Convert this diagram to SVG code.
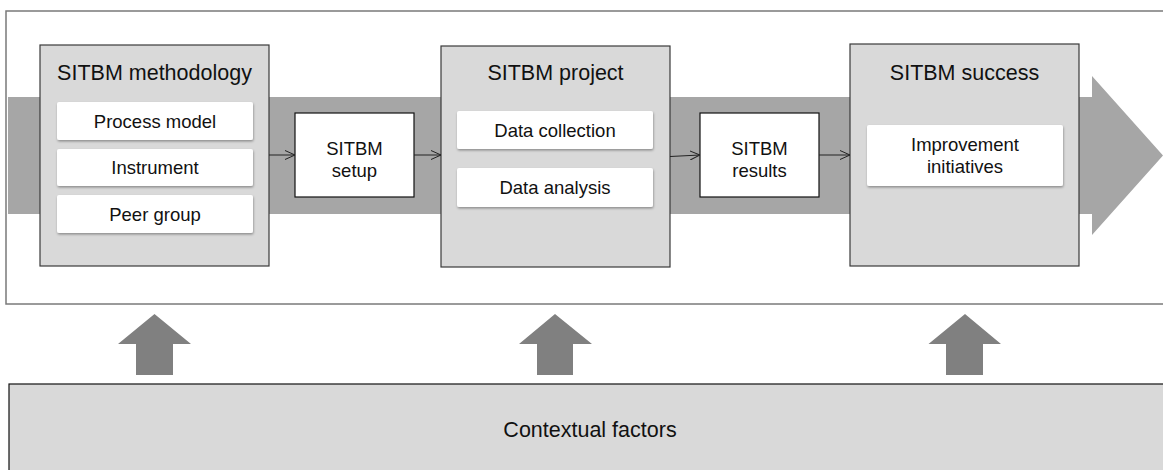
<svg xmlns="http://www.w3.org/2000/svg" width="1163" height="470" viewBox="0 0 1163 470">
<defs>
<style>
text{font-family:"Liberation Sans",Arial,sans-serif;fill:#111;text-anchor:middle}
.title{font-size:21.5px}
.lbl{font-size:18.5px}
.stage{fill:#d9d9d9;stroke:#3a3a3a;stroke-width:1.2}
.item{fill:#fff;filter:url(#sh)}
.box{fill:#fff;stroke:#111;stroke-width:1.2}
.up{fill:#808080}
.conn{stroke:#222;stroke-width:1;fill:none;marker-end:url(#ah)}
</style>
<filter id="sh" x="-5%" y="-20%" width="110%" height="150%">
<feDropShadow dx="0.5" dy="1.5" stdDeviation="1.2" flood-color="#000" flood-opacity="0.35"/>
</filter>
<marker id="ah" viewBox="0 0 10 10" refX="10" refY="5" markerWidth="10" markerHeight="10" markerUnits="userSpaceOnUse" orient="auto">
<path d="M0,0.5 L10,5 L0,9.5" fill="none" stroke="#222" stroke-width="1"/>
</marker>
</defs>
<rect id="frame" x="6" y="11" width="1170" height="293" fill="#fff" stroke="#7a7a7a" stroke-width="1.5"/>
<polygon id="band" points="8,97 1092,97 1092,76 1163,155.5 1092,235 1092,214 8,214" fill="#a6a6a6"/>
<g id="methodology">
<rect class="stage" x="40" y="45" width="229" height="221"/>
<text class="title" x="154.5" y="80">SITBM methodology</text>
<rect class="item" x="57" y="102" width="196" height="38" rx="2"/>
<text class="lbl" x="155" y="128">Process model</text>
<rect class="item" x="57" y="149" width="196" height="37" rx="2"/>
<text class="lbl" x="155" y="174">Instrument</text>
<rect class="item" x="57" y="195" width="196" height="38" rx="2"/>
<text class="lbl" x="155" y="221">Peer group</text>
</g>
<g id="setup">
<rect class="box" x="295" y="113" width="119" height="84"/>
<text class="lbl" x="354.5" y="155">SITBM</text>
<text class="lbl" x="354.5" y="177">setup</text>
</g>
<g id="project">
<rect class="stage" x="441" y="46" width="229" height="221"/>
<text class="title" x="555.5" y="80">SITBM project</text>
<rect class="item" x="457" y="111" width="196" height="38" rx="2"/>
<text class="lbl" x="555" y="137">Data collection</text>
<rect class="item" x="457" y="168" width="196" height="39" rx="2"/>
<text class="lbl" x="555" y="194">Data analysis</text>
</g>
<g id="results">
<rect class="box" x="700" y="113" width="119" height="84"/>
<text class="lbl" x="759.5" y="155">SITBM</text>
<text class="lbl" x="759.5" y="177">results</text>
</g>
<g id="success">
<rect class="stage" x="850" y="44" width="229" height="222"/>
<text class="title" x="964.5" y="80">SITBM success</text>
<rect class="item" x="867" y="125" width="196" height="61" rx="2"/>
<text class="lbl" x="965" y="151">Improvement</text>
<text class="lbl" x="965" y="173">initiatives</text>
</g>
<g id="connectors">
<line class="conn" x1="269" y1="155" x2="295" y2="155"/>
<line class="conn" x1="414" y1="155" x2="441" y2="155"/>
<line class="conn" x1="670" y1="156.5" x2="700" y2="155"/>
<line class="conn" x1="819" y1="155" x2="850" y2="155"/>
</g>
<g id="up-arrows">
<polygon class="up" points="154.5,314 191,344 173,344 173,375 136,375 136,344 118,344"/>
<polygon class="up" points="555,314 592,344 573,344 573,375 537,375 537,344 519,344"/>
<polygon class="up" points="965,314 1001,344 983,344 983,375 946,375 946,344 928.5,344"/>
</g>
<g id="context">
<rect x="9" y="384" width="1170" height="100" fill="#d9d9d9" stroke="#111" stroke-width="1.2"/>
<text class="title" x="590" y="437">Contextual factors</text>
</g>
</svg>
